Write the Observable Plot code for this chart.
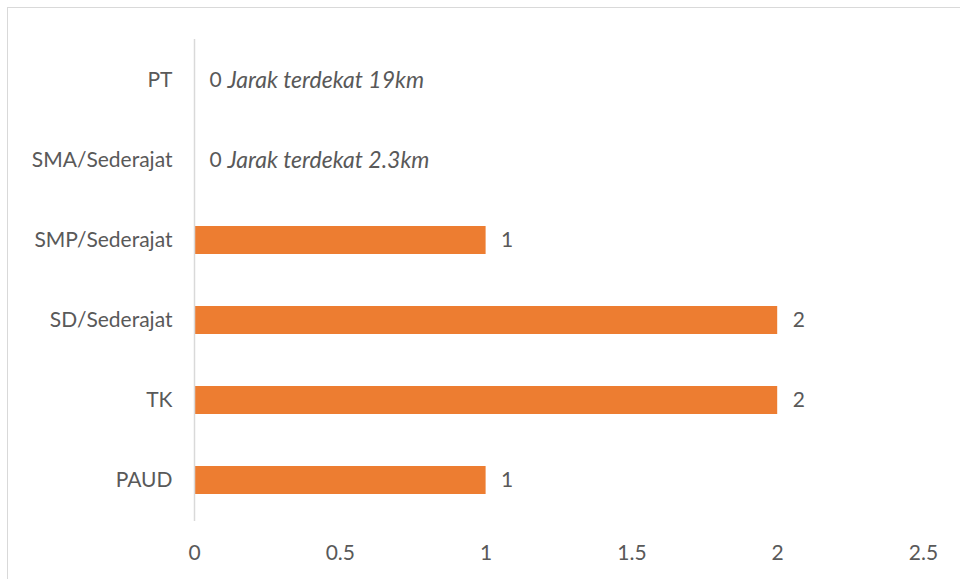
<!DOCTYPE html>
<html>
<head>
<meta charset="utf-8">
<script src="https://cdn.jsdelivr.net/npm/d3@7"></script>
<script src="https://cdn.jsdelivr.net/npm/@observablehq/plot@0.6"></script>
<style>
  html, body { margin: 0; padding: 0; background: #fff; overflow: hidden; }
  #wrap { position: relative; width: 960px; height: 579px; }
  #frame { position: absolute; left: 7px; top: 7px; width: 980px; height: 600px; border: 1px solid #d9d9d9; box-sizing: border-box; pointer-events: none; }
  svg { font-family: Lato, "Open Sans", sans-serif; }
</style>
</head>
<body>
<div id="wrap"><div id="frame"></div></div>
<script>
const categories = ["PT", "SMA/Sederajat", "SMP/Sederajat", "SD/Sederajat", "TK", "PAUD"];
const values = [0, 0, 1, 2, 2, 1];
const notes = ["Jarak terdekat 19km", "Jarak terdekat 2.3km", "", "", "", ""];
const xTicks = [0, 0.5, 1, 1.5, 2, 2.5];

const data = categories.map((c, i) => ({category: c, value: values[i], note: notes[i]}));
const zeroData = data.filter(d => d.value === 0);
const posData = data.filter(d => d.value > 0);

const chart = Plot.plot({
  width: 960,
  height: 579,
  marginLeft: 194,
  marginRight: 37,
  marginTop: 39,
  marginBottom: 58,
  style: {fontSize: "21px", color: "#595959", background: "transparent"},
  x: {domain: [0, 2.5], ticks: xTicks, tickFormat: d => String(d), tickSize: 0, tickPadding: 24, label: null},
  y: {domain: categories, paddingInner: 0.65, paddingOuter: 0.325, tickSize: 0, tickPadding: 22, label: null},
  marks: [
    Plot.barX(posData, {x: "value", y: "category", fill: "#ED7D31"}),
    Plot.ruleX([0], {stroke: "#d9d9d9", strokeWidth: 1.5}),
    Plot.text(posData, {x: "value", y: "category", text: d => String(d.value), dx: 15, textAnchor: "start", fill: "#595959", fontSize: 21}),
    Plot.text(zeroData, {x: "value", y: "category", text: d => String(d.value), dx: 15, textAnchor: "start", fill: "#595959", fontSize: 21}),
    Plot.text(zeroData, {x: "value", y: "category", text: "note", dx: 33, textAnchor: "start", fill: "#595959", fontSize: 23, fontStyle: "italic"})
  ]
});
document.getElementById("wrap").insertBefore(chart, document.getElementById("frame"));
</script>
</body>
</html>
